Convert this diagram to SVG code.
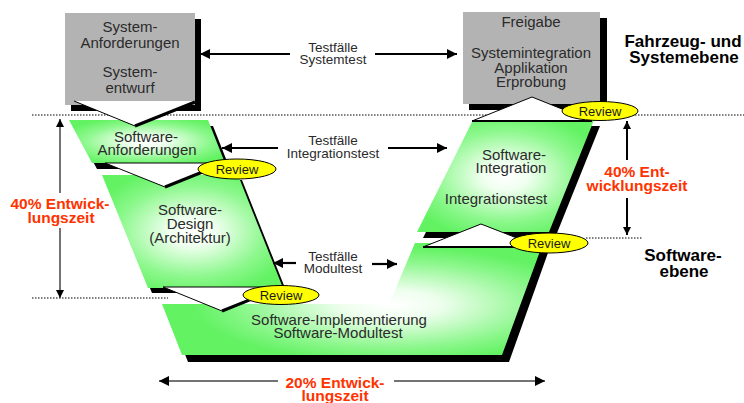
<svg xmlns="http://www.w3.org/2000/svg" width="744" height="403" viewBox="0 0 744 403">
  <style>
    text { font-family: "Liberation Sans", Arial, sans-serif; text-anchor: middle; }
    .t { font-size: 15px; fill: #2b2b2b; }
    .s { font-size: 13.5px; fill: #2b2b2b; }
    .rv { font-size: 13px; fill: #1a1a1a; }
    .b { font-size: 17px; font-weight: bold; fill: #000; }
    .r { font-size: 15.5px; font-weight: bold; fill: #ff3300; }
    .box { fill: #b3b3b3; }
    .sh { fill: #000; }
    .green { fill: url(#glow); }
    .chev { fill: #fff; }
    .thin { fill: none; stroke: #000; stroke-width: 1; }
    .thick { fill: none; stroke: #000; stroke-width: 3; }
    .base { fill: none; stroke: #000; stroke-width: 2; }
    .review { fill: #ffff00; stroke: #000; stroke-width: 1; }
    .dot { fill: none; stroke: #000; stroke-width: 1.2; stroke-dasharray: 1.5 1.5; }
    .arr { fill: none; stroke: #000; stroke-width: 2.2; }
    .dim { fill: none; stroke: #444; stroke-width: 1.5; }
    .dimb { fill: none; stroke: #000; stroke-width: 2; }
  </style>
  <defs>
    <radialGradient id="glow" cx="0.5" cy="0.5" r="0.58">
      <stop offset="0" stop-color="#ffffff"/>
      <stop offset="0.22" stop-color="#f0fff0"/>
      <stop offset="0.7" stop-color="#8cf88c"/>
      <stop offset="1" stop-color="#62f262"/>
    </radialGradient>
    <radialGradient id="glowWide" cx="0.6" cy="0.55" r="0.52">
      <stop offset="0" stop-color="#ffffff"/>
      <stop offset="0.25" stop-color="#eefeee"/>
      <stop offset="0.75" stop-color="#8af78a"/>
      <stop offset="1" stop-color="#62f262"/>
    </radialGradient>
    <marker id="head" viewBox="0 0 10 10" refX="10" refY="5" markerWidth="11" markerHeight="10" markerUnits="userSpaceOnUse" orient="auto">
      <path d="M0,0 L10,5 L0,10 z" fill="#000"/>
    </marker>
    <marker id="headS" viewBox="0 0 10 10" refX="10" refY="5" markerWidth="9" markerHeight="8" markerUnits="userSpaceOnUse" orient="auto">
      <path d="M0,0 L10,5 L0,10 z" fill="#000"/>
    </marker>
  </defs>

  <!-- level separators -->
  <g id="levels">
    <line class="dot" x1="32" y1="115" x2="744" y2="115"/>
    <line class="dot" x1="32" y1="298" x2="168" y2="298"/>
    <line class="dot" x1="586" y1="238" x2="643" y2="238"/>
  </g>

  <!-- right column: release / system integration -->
  <g id="freigabe">
    <rect class="sh" x="469" y="18" width="138" height="92"/>
    <rect class="box" x="463" y="12" width="137" height="92"/>
    <text class="t" x="531" y="27">Freigabe</text>
    <text class="t" x="531" y="58">Systemintegration</text>
    <text class="t" x="531" y="73">Applikation</text>
    <text class="t" x="531" y="87">Erprobung</text>
  </g>

  <g id="sw-integration">
    <polygon class="sh" points="479,126 600,126 555,238 423,238"/>
    <polygon class="green" points="473,120 594,120 549,232 417,232"/>
    <text class="t" x="514" y="160">Software-</text>
    <text class="t" x="511" y="173">Integration</text>
    <text class="t" x="496" y="204">Integrationstest</text>
    <!-- upward chevron into the release box -->
    <polygon class="chev" points="472,121 532,97 592,121"/>
    <polyline class="thin" points="472,121 532,97 592,121"/>
    <line class="base" x1="472" y1="121" x2="592" y2="121"/>
  </g>

  <g id="sw-implementierung">
    <polygon class="sh" points="168,311 395,311 421,250 549,250 509,362 188,362"/>
    <polygon points="162,304 389,304 415,243 543,243 502,355 182,355" fill="url(#glowWide)"/>
    <text class="t" x="339" y="325">Software-Implementierung</text>
    <text class="t" x="338" y="338">Software-Modultest</text>
    <!-- upward chevron into software integration -->
    <polygon class="chev" points="423,247 481,224 540,247"/>
    <polyline class="thin" points="423,247 481,224 540,247"/>
    <line class="base" x1="423" y1="247" x2="540" y2="247"/>
  </g>

  <g id="sw-design">
    <polygon class="sh" points="106,180 242,180 287,293 152,293"/>
    <polygon class="green" points="102,175 238,175 283,288 148,288"/>
    <text class="t" x="190" y="215">Software-</text>
    <text class="t" x="190" y="229">Design</text>
    <text class="t" x="190" y="243">(Architektur)</text>
    <!-- downward chevron into implementation -->
    <polygon class="chev" points="163,287 282,287 222,311"/>
    <polyline class="thin" points="282,287 163,287 222,311"/>
    <line class="thick" x1="222" y1="311" x2="282" y2="287"/>
  </g>

  <g id="sw-anforderungen">
    <polygon class="sh" points="74,126 213,126 230,169 97,169"/>
    <polygon class="green" points="69,120 208,120 225,163 92,163"/>
    <text class="t" x="146" y="142">Software-</text>
    <text class="t" x="147" y="155">Anforderungen</text>
    <!-- downward chevron into design -->
    <polygon class="chev" points="105,163 225,163 165,187"/>
    <polyline class="thin" points="225,163 105,163 165,187"/>
    <line class="thick" x1="165" y1="187" x2="225" y2="163"/>
  </g>

  <g id="system-anforderungen">
    <rect class="sh" x="71" y="19" width="130" height="92"/>
    <rect class="box" x="65" y="13" width="130" height="92"/>
    <text class="t" x="130" y="32">System-</text>
    <text class="t" x="130" y="48">Anforderungen</text>
    <text class="t" x="130" y="77">System-</text>
    <text class="t" x="130" y="93">entwurf</text>
    <!-- downward chevron into software requirements -->
    <polygon class="chev" points="74,101 195,101 135,126"/>
    <line class="thin" x1="74" y1="101" x2="135" y2="126"/>
    <line class="thick" x1="135" y1="126" x2="195" y2="102"/>
  </g>

  <!-- review milestones -->
  <g id="reviews">
    <ellipse class="review" cx="237" cy="169" rx="39" ry="10"/>
    <text class="rv" x="237" y="174">Review</text>
    <ellipse class="review" cx="281" cy="295" rx="38" ry="9.5"/>
    <text class="rv" x="281" y="300">Review</text>
    <ellipse class="review" cx="600" cy="111" rx="38" ry="9.5"/>
    <text class="rv" x="600" y="116">Review</text>
    <ellipse class="review" cx="549" cy="243" rx="39" ry="10"/>
    <text class="rv" x="549" y="248">Review</text>
  </g>

  <!-- test case links and time spans -->
  <g id="connectors">
    <line class="arr" x1="290" y1="54" x2="200" y2="54" marker-end="url(#head)"/>
    <line class="arr" x1="375" y1="54" x2="457" y2="54" marker-end="url(#head)"/>
    <line class="arr" x1="278" y1="148" x2="222" y2="148" marker-end="url(#head)"/>
    <line class="arr" x1="388" y1="148" x2="447" y2="148" marker-end="url(#head)"/>
    <line class="arr" x1="296" y1="263" x2="273" y2="263" marker-end="url(#head)"/>
    <line class="arr" x1="372" y1="264" x2="397" y2="264" marker-end="url(#head)"/>

    <line class="dim" x1="60" y1="193" x2="60" y2="119" marker-end="url(#headS)"/>
    <line class="dim" x1="60" y1="228" x2="60" y2="298" marker-end="url(#headS)"/>
    <line class="dimb" x1="627" y1="160" x2="627" y2="121" marker-end="url(#headS)"/>
    <line class="dimb" x1="627" y1="198" x2="627" y2="235" marker-end="url(#headS)"/>
    <line class="dim" x1="278" y1="381" x2="159" y2="381" marker-end="url(#head)"/>
    <line class="dim" x1="394" y1="381" x2="545" y2="381" marker-end="url(#head)"/>
  </g>

  <g id="labels">
    <text class="s" x="333" y="52">Testfälle</text>
    <text class="s" x="333" y="64">Systemtest</text>
    <text class="s" x="333" y="145">Testfälle</text>
    <text class="s" x="333" y="158">Integrationstest</text>
    <text class="s" x="333" y="261">Testfälle</text>
    <text class="s" x="333" y="273">Modultest</text>

    <text class="b" x="683" y="47">Fahrzeug- und</text>
    <text class="b" x="684" y="63">Systemebene</text>
    <text class="b" x="683" y="261">Software-</text>
    <text class="b" x="684" y="277">ebene</text>

    <text class="r" x="60" y="209">40% Entwick-</text>
    <text class="r" x="61" y="223">lungszeit</text>
    <text class="r" x="637" y="177">40% Ent-</text>
    <text class="r" x="637" y="191">wicklungszeit</text>
    <text class="r" x="335" y="388">20% Entwick-</text>
    <text class="r" x="335" y="401">lungszeit</text>
  </g>
</svg>
